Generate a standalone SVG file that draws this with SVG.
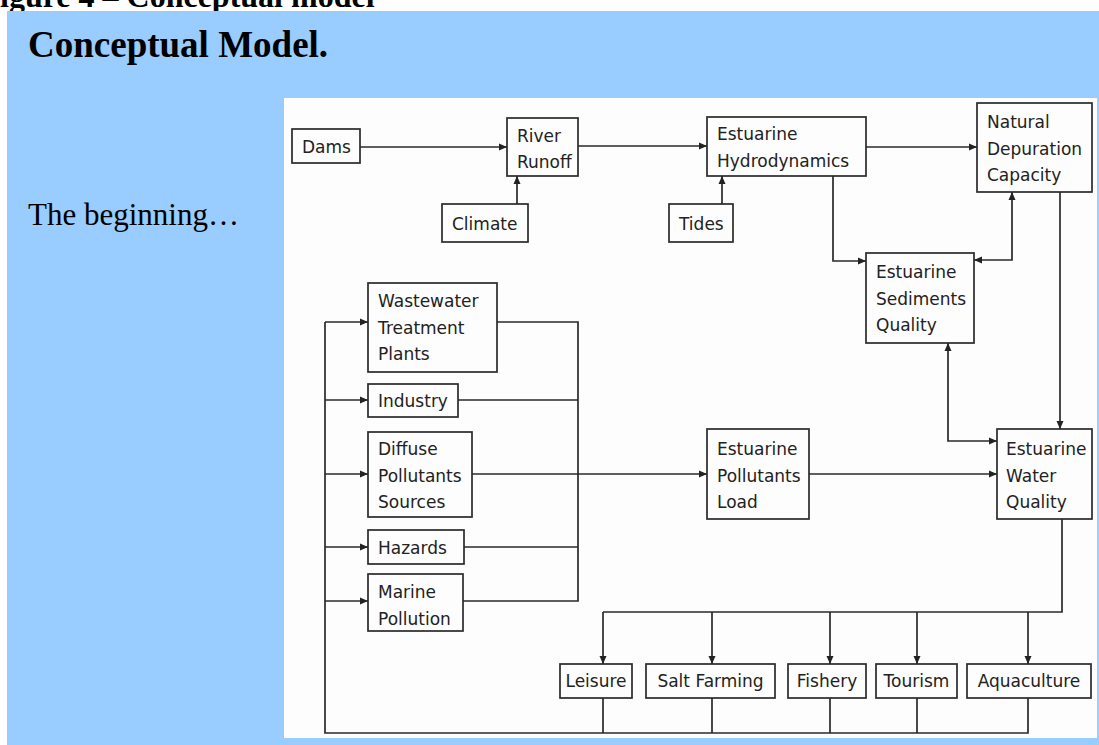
<svg xmlns="http://www.w3.org/2000/svg" width="1099" height="745" viewBox="0 0 1099 745">
<style>
.box{fill:#fdfdfd;stroke:#2a2a2a;stroke-width:1.7}
.t{font-family:"DejaVu Sans","Liberation Sans",sans-serif;font-size:17px;fill:#222}
.tc{font-family:"DejaVu Sans","Liberation Sans",sans-serif;font-size:17px;fill:#222;text-anchor:middle}
.c{fill:none;stroke:#2a2a2a;stroke-width:1.7}
.a{marker-end:url(#ah)}
.b{marker-start:url(#ah);marker-end:url(#ah)}
</style>
<defs>
<marker id="ah" viewBox="0 0 8 8" refX="8" refY="4" markerWidth="8" markerHeight="8" markerUnits="userSpaceOnUse" orient="auto-start-reverse"><path d="M0,0.5 L8,4 L0,7.5 z" fill="#222"/></marker>
</defs>
<rect x="0" y="0" width="1099" height="745" fill="#ffffff"/>
<text x="0" y="7" font-family="Liberation Serif, serif" font-weight="bold" font-size="32" fill="#000">igure 4 – Conceptual model</text>
<rect x="7" y="11" width="1092" height="734" fill="#99ccff"/>
<text x="28" y="57" font-family="Liberation Serif, serif" font-weight="bold" font-size="37" fill="#000">Conceptual Model.</text>
<text x="28" y="225" font-family="Liberation Serif, serif" font-size="31" fill="#000">The beginning…</text>
<rect x="284" y="98" width="813" height="640" fill="#fdfdfd"/>

<g id="connectors">
<path class="c a" d="M360,147 H507"/>
<path class="c a" d="M517,204 V176"/>
<path class="c a" d="M578,146 H707"/>
<path class="c a" d="M722,204 V176"/>
<path class="c a" d="M866,147 H977"/>
<path class="c a" d="M833,176 V261 H866"/>
<path class="c b" d="M1012,192 V260 H974"/>
<path class="c a" d="M1060,192 V429"/>
<path class="c b" d="M948,343 V441 H997"/>
<path class="c a" d="M472,474 H707"/>
<path class="c a" d="M809,474 H997"/>
<path class="c" d="M497,322 H578 V601 H463 M458,400 H578 M464,547 H578"/>
<path class="c" d="M1062,519 V612 H603"/>
<path class="c a" d="M603,612 V664"/>
<path class="c a" d="M712,612 V664"/>
<path class="c a" d="M830,612 V664"/>
<path class="c a" d="M917,612 V664"/>
<path class="c a" d="M1028,612 V664"/>
<path class="c" d="M603,698 V733 M712,698 V733 M830,698 V733 M917,698 V733 M1028,698 V733 H325 V322"/>
<path class="c a" d="M325,322 H368"/>
<path class="c a" d="M325,400 H368"/>
<path class="c a" d="M325,474 H368"/>
<path class="c a" d="M325,547 H368"/>
<path class="c a" d="M325,601 H368"/>
</g>

<g id="dams"><rect class="box" x="292" y="129" width="68" height="34"/><text class="t" x="302" y="153">Dams</text></g>
<g id="river-runoff"><rect class="box" x="507" y="118" width="71" height="58"/><text class="t" x="517" y="142">River</text><text class="t" x="517" y="168">Runoff</text></g>
<g id="climate"><rect class="box" x="442" y="204" width="86" height="38"/><text class="t" x="452" y="230">Climate</text></g>
<g id="tides"><rect class="box" x="669" y="204" width="64" height="38"/><text class="t" x="679" y="230">Tides</text></g>
<g id="estuarine-hydrodynamics"><rect class="box" x="707" y="117" width="159" height="59"/><text class="t" x="717" y="140">Estuarine</text><text class="t" x="717" y="167">Hydrodynamics</text></g>
<g id="natural-depuration-capacity"><rect class="box" x="977" y="103" width="115" height="89"/><text class="t" x="987" y="128">Natural</text><text class="t" x="987" y="155">Depuration</text><text class="t" x="987" y="181">Capacity</text></g>
<g id="estuarine-sediments-quality"><rect class="box" x="866" y="253" width="108" height="90"/><text class="t" x="876" y="278">Estuarine</text><text class="t" x="876" y="305">Sediments</text><text class="t" x="876" y="331">Quality</text></g>
<g id="wastewater-treatment-plants"><rect class="box" x="368" y="283" width="129" height="89"/><text class="t" x="378" y="307">Wastewater</text><text class="t" x="378" y="334">Treatment</text><text class="t" x="378" y="360">Plants</text></g>
<g id="industry"><rect class="box" x="368" y="384" width="90" height="33"/><text class="t" x="378" y="407">Industry</text></g>
<g id="diffuse-pollutants-sources"><rect class="box" x="368" y="432" width="104" height="85"/><text class="t" x="378" y="455">Diffuse</text><text class="t" x="378" y="482">Pollutants</text><text class="t" x="378" y="508">Sources</text></g>
<g id="hazards"><rect class="box" x="368" y="530" width="96" height="34"/><text class="t" x="378" y="554">Hazards</text></g>
<g id="marine-pollution"><rect class="box" x="368" y="574" width="95" height="57"/><text class="t" x="378" y="598">Marine</text><text class="t" x="378" y="625">Pollution</text></g>
<g id="estuarine-pollutants-load"><rect class="box" x="707" y="429" width="102" height="90"/><text class="t" x="717" y="455">Estuarine</text><text class="t" x="717" y="482">Pollutants</text><text class="t" x="717" y="508">Load</text></g>
<g id="estuarine-water-quality"><rect class="box" x="997" y="429" width="95" height="90"/><text class="t" x="1006" y="455">Estuarine</text><text class="t" x="1006" y="482">Water</text><text class="t" x="1006" y="508">Quality</text></g>
<g id="leisure"><rect class="box" x="560" y="664" width="72" height="34"/><text class="tc" x="596" y="687">Leisure</text></g>
<g id="salt-farming"><rect class="box" x="646" y="664" width="129" height="34"/><text class="tc" x="710.5" y="687">Salt Farming</text></g>
<g id="fishery"><rect class="box" x="788" y="664" width="78" height="34"/><text class="tc" x="827" y="687">Fishery</text></g>
<g id="tourism"><rect class="box" x="876" y="664" width="81" height="34"/><text class="tc" x="916.5" y="687">Tourism</text></g>
<g id="aquaculture"><rect class="box" x="967" y="664" width="124" height="34"/><text class="tc" x="1029" y="687">Aquaculture</text></g>
</svg>
